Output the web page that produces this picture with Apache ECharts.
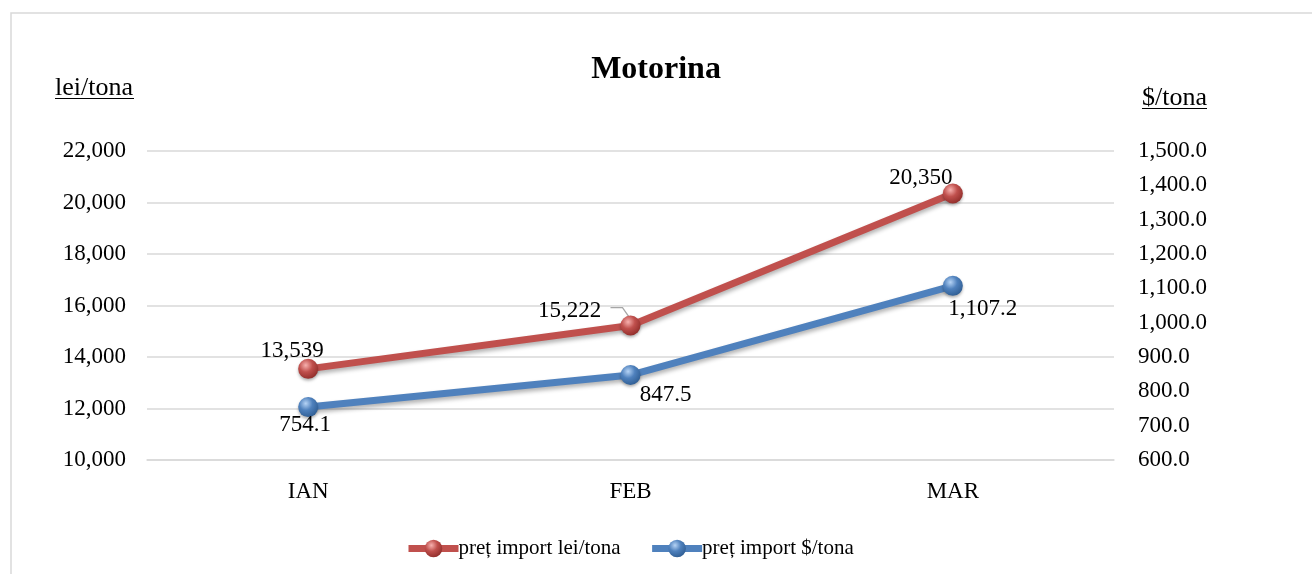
<!DOCTYPE html>
<html>
<head>
<meta charset="utf-8">
<script src="https://cdn.jsdelivr.net/npm/echarts@6/dist/echarts.min.js"></script>
<style>
html,body{margin:0;padding:0;background:#fff;}
#main{width:1312px;height:574px;}
</style>
</head>
<body>
<div id="main"></div>
<script>
const categories = ['IAN', 'FEB', 'MAR'];
const leiValues = [13539, 15222, 20350];
const usdValues = [754.1, 847.5, 1107.2];
const leiName = 'preț import lei/tona';
const usdName = 'preț import $/tona';
const titleText = 'Motorina';
const leftUnit = 'lei/tona';
const rightUnit = '$/tona';

const FONT = '"Liberation Serif", "Times New Roman", serif';
const RED = '#C0504D';
const BLUE = '#4F81BD';

function fmtInt(v){ return Math.round(v).toLocaleString('en-US'); }
function fmt1(v){ return v.toLocaleString('en-US',{minimumFractionDigits:1, maximumFractionDigits:1}); }

function ball(base, light, dark){
  return {type:'radial', x:0.38, y:0.32, r:0.75, colorStops:[
    {offset:0, color:light},{offset:0.45, color:base},{offset:1, color:dark}]};
}

const leiOffsets = [[-16,-18],[-61,-15],[-32,-16]];
const usdOffsets = [[-3,18],[35,20],[30,23]];

const leiData = leiValues.map((v,i)=>({value:v, label:{offset:leiOffsets[i]}}));
const usdData = usdValues.map((v,i)=>({value:v, label:{offset:usdOffsets[i]}}));

const chart = echarts.init(document.getElementById('main'), null, {renderer:'canvas'});
chart.setOption({
  backgroundColor:'#fff',
  animation:false,
  title:{text:titleText, left:'center', top:49,
    textStyle:{fontFamily:FONT, fontSize:32, fontWeight:'bold', color:'#000'}},
  grid:{left:147, right:198, top:151, bottom:114},
  legend:{
    left:400, top:533, itemWidth:50, itemHeight:22, itemGap:28,
    lineStyle:{width:7},
    textStyle:{fontFamily:FONT, fontSize:21, color:'#000', padding:[0,0,0,-5]},
    data:[leiName, usdName]
  },
  xAxis:{
    type:'category', data:categories,
    axisLine:{show:true, lineStyle:{color:'#d9d9d9', width:1.5}},
    axisTick:{show:false},
    axisLabel:{fontFamily:FONT, fontSize:23, color:'#000', margin:20}
  },
  yAxis:[{
    type:'value', min:10000, max:22000, interval:2000,
    axisLine:{show:false}, axisTick:{show:false},
    splitLine:{lineStyle:{color:'#d9d9d9', width:1.5}},
    axisLabel:{fontFamily:FONT, fontSize:23, color:'#000', margin:21, formatter:fmtInt}
  },{
    type:'value', min:600, max:1500, interval:100,
    axisLine:{show:false}, axisTick:{show:false},
    splitLine:{show:false},
    axisLabel:{fontFamily:FONT, fontSize:23, color:'#000', margin:24, formatter:fmt1}
  }],
  series:[{
    name:leiName, type:'line', yAxisIndex:0, data:leiData,
    symbol:'circle', symbolSize:20,
    lineStyle:{color:RED, width:7, shadowColor:'rgba(0,0,0,0.3)', shadowBlur:4, shadowOffsetY:3},
    itemStyle:{color:ball(RED,'#f7b0ae','#8c2a27'), borderWidth:0, shadowColor:'rgba(0,0,0,0.3)', shadowBlur:3, shadowOffsetY:2},
    label:{show:true, position:'inside', fontFamily:FONT, fontSize:23, color:'#000', formatter:p=>fmtInt(p.value)},
    z:3
  },{
    name:usdName, type:'line', yAxisIndex:1, data:usdData,
    symbol:'circle', symbolSize:20,
    lineStyle:{color:BLUE, width:7, shadowColor:'rgba(0,0,0,0.3)', shadowBlur:4, shadowOffsetY:3},
    itemStyle:{color:ball(BLUE,'#b5d3f5','#2c5a8f'), borderWidth:0, shadowColor:'rgba(0,0,0,0.3)', shadowBlur:3, shadowOffsetY:2},
    label:{show:true, position:'inside', fontFamily:FONT, fontSize:23, color:'#000', formatter:p=>fmt1(p.value)},
    z:3
  }]
});

// leader line for the FEB lei label, anchored to the data point via the axes
const p = chart.convertToPixel({xAxisIndex:0, yAxisIndex:0}, [categories[1], leiValues[1]]);
chart.setOption({
  graphic:[
    {type:'rect', silent:true, shape:{x:11, y:13, width:1400, height:700},
      style:{fill:'none', stroke:'#d9d9d9', lineWidth:1.5}, z:-1},
    {type:'text', left:55, top:75, style:{text:leftUnit, font:'26px '+FONT, fill:'#000'}},
    {type:'line', shape:{x1:55, y1:98.5, x2:134, y2:98.5}, style:{stroke:'#000', lineWidth:1.2}},
    {type:'text', left:1142, top:85, style:{text:rightUnit, font:'26px '+FONT, fill:'#000'}},
    {type:'line', shape:{x1:1142, y1:108.5, x2:1207, y2:108.5}, style:{stroke:'#000', lineWidth:1.2}},
    {type:'polyline', silent:true, z:2,
      shape:{points:[[p[0]-20, p[1]-18],[p[0]-8, p[1]-18],[p[0]-1, p[1]-8]]},
      style:{stroke:'#a6a6a6', lineWidth:1.3, fill:'none'}}
  ]
});
</script>
</body>
</html>
